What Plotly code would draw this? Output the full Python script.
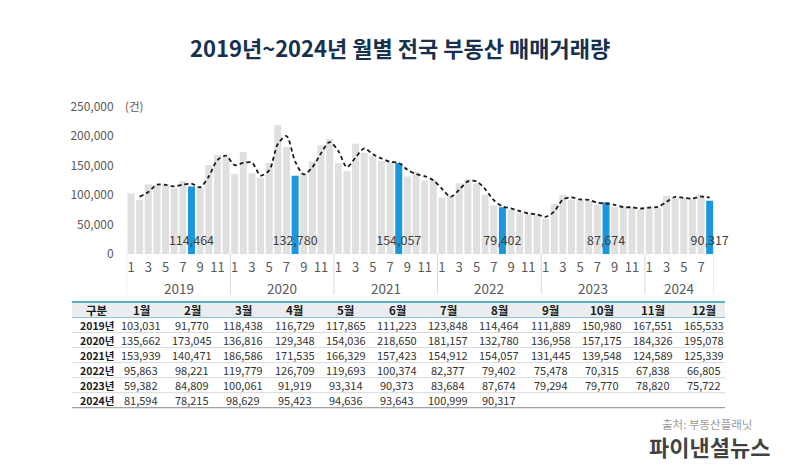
import plotly.graph_objects as go
import pandas as pd

FONT = "Noto Sans CJK KR"

years = ["2019", "2020", "2021", "2022", "2023", "2024"]
month_headers = ["1월", "2월", "3월", "4월", "5월", "6월", "7월", "8월", "9월", "10월", "11월", "12월"]

v2019 = [103031, 91770, 118438, 116729, 117865, 111223, 123848, 114464, 111889, 150980, 167551, 165533]
v2020 = [135662, 173045, 136816, 129348, 154036, 218650, 181157, 132780, 136958, 157175, 184326, 195078]
v2021 = [153939, 140471, 186586, 171535, 166329, 157423, 154912, 154057, 131445, 139548, 124589, 125339]
v2022 = [95863, 98221, 119779, 126709, 119693, 100374, 82377, 79402, 75478, 70315, 67838, 66805]
v2023 = [59382, 84809, 100061, 91919, 93314, 90373, 83684, 87674, 79294, 79770, 78820, 75722]
v2024 = [81594, 78215, 98629, 95423, 94636, 93643, 100999, 90317]

series = [v2019, v2020, v2021, v2022, v2023, v2024]
highlight_month = 8  # August highlighted

W, H = 800, 471
def px_x(p):
    return p / W
def px_y(p):
    return 1 - p / H

# flatten
xs, ys, colors, months = [], [], [], []
idx = 0
for yr, vals in zip(years, series):
    for m, v in enumerate(vals, start=1):
        xs.append(idx)
        ys.append(v)
        months.append(m)
        colors.append("#1b97dd" if m == highlight_month else "#e0e0e0")
        idx += 1

ma = pd.Series(ys).rolling(2).mean()

fig = go.Figure()
fig.add_trace(go.Bar(x=xs, y=ys, marker=dict(color=colors, line=dict(width=0)),
                     hoverinfo="skip", showlegend=False))
fig.add_trace(go.Scatter(x=xs[1:], y=ma[1:].tolist(), mode="lines",
                         line=dict(color="#1a1a1a", width=1.8, dash="4px,3px", shape="spline", smoothing=0.8),
                         hoverinfo="skip", showlegend=False))
hx = [x for x, m in zip(xs, months) if m == highlight_month]
hv = [v for v, m in zip(ys, months) if m == highlight_month]
fig.add_trace(go.Scatter(x=hx, y=[21500] * len(hx), mode="text", cliponaxis=False,
                         text=[f"{v:,}" for v in hv],
                         textfont=dict(family=FONT, size=12.5, color="#404040"),
                         hoverinfo="skip", showlegend=False))

shapes = []
annotations = []

# ---- table (drawn as text cells) ----
T_LEFT, T_RIGHT = 72, 725
T_TOP, HDR_BOT, ROW_H = 303, 319, 15.6
col_centers = [97] + [141 + 51.2 * i for i in range(12)]

shapes.append(dict(type="rect", xref="paper", yref="paper", x0=px_x(T_LEFT), x1=px_x(T_RIGHT),
                   y0=px_y(HDR_BOT), y1=px_y(T_TOP), fillcolor="#e9edf0", line=dict(width=0), layer="below"))
shapes.append(dict(type="line", xref="paper", yref="paper", x0=px_x(T_LEFT), x1=px_x(T_RIGHT),
                   y0=px_y(T_TOP), y1=px_y(T_TOP), line=dict(color="#5aaec6", width=2)))
shapes.append(dict(type="line", xref="paper", yref="paper", x0=px_x(T_LEFT), x1=px_x(T_RIGHT),
                   y0=px_y(HDR_BOT), y1=px_y(HDR_BOT), line=dict(color="#8fc3d3", width=1.2)))
for k in range(1, len(years)):
    yy = HDR_BOT + k * ROW_H
    shapes.append(dict(type="line", xref="paper", yref="paper", x0=px_x(T_LEFT), x1=px_x(T_RIGHT),
                       y0=px_y(yy), y1=px_y(yy), line=dict(color="#d0d0d0", width=0.8)))
yb = HDR_BOT + len(years) * ROW_H
shapes.append(dict(type="line", xref="paper", yref="paper", x0=px_x(T_LEFT), x1=px_x(T_RIGHT),
                   y0=px_y(yb), y1=px_y(yb), line=dict(color="#8c8c8c", width=1)))

header_vals = ["구분"] + month_headers
for cx, hv_ in zip(col_centers, header_vals):
    annotations.append(dict(x=px_x(cx), y=px_y((T_TOP + HDR_BOT) / 2), xref="paper", yref="paper",
                            text=f"<b>{hv_}</b>", showarrow=False, xanchor="center", yanchor="middle",
                            font=dict(family=FONT, size=11.5, color="#1a1a1a")))
for r, (yr, s) in enumerate(zip(years, series)):
    cy = HDR_BOT + (r + 0.5) * ROW_H
    annotations.append(dict(x=px_x(col_centers[0]), y=px_y(cy), xref="paper", yref="paper",
                            text=f"<b>{yr}년</b>", showarrow=False, xanchor="center", yanchor="middle",
                            font=dict(family=FONT, size=10.5, color="#1a1a1a")))
    for mi, v in enumerate(s):
        annotations.append(dict(x=px_x(col_centers[mi + 1]), y=px_y(cy), xref="paper", yref="paper",
                                text=f"{v:,}", showarrow=False, xanchor="center", yanchor="middle",
                                font=dict(family=FONT, size=11, color="#333333")))

# ---- year dividers and labels ----
bounds = [-0.5]
for s in series:
    bounds.append(bounds[-1] + len(s))
for b in bounds:
    shapes.append(dict(type="line", xref="x", yref="paper", x0=b, x1=b,
                       y0=px_y(295), y1=px_y(253.3), line=dict(color="#d9d9d9", width=1)))
for i, yr in enumerate(years):
    cx = (bounds[i] + bounds[i + 1]) / 2
    annotations.append(dict(x=cx, y=px_y(288), xref="x", yref="paper", text=yr, showarrow=False,
                            font=dict(family=FONT, size=13.5, color="#595959"), yanchor="middle"))

annotations.append(dict(x=px_x(400), y=px_y(38), xref="paper", yref="paper",
                        text="<b>2019년~2024년 월별 전국 부동산 매매거래량</b>", showarrow=False,
                        font=dict(family=FONT, size=22, color="#16304d"), yanchor="middle"))
annotations.append(dict(x=px_x(123), y=px_y(100), xref="paper", yref="paper", text="(건)",
                        showarrow=False, xanchor="left", yanchor="middle",
                        font=dict(family=FONT, size=11.5, color="#595959")))
annotations.append(dict(x=px_x(709), y=px_y(452), xref="paper", yref="paper", text="<b>파이낸셜뉴스</b>",
                        showarrow=False, xanchor="center", yanchor="middle",
                        font=dict(family=FONT, size=22, color="rgba(30,30,30,0.85)")))
annotations.append(dict(x=px_x(707), y=px_y(430), xref="paper", yref="paper", text="출처: 부동산플래닛",
                        showarrow=False, xanchor="center", yanchor="middle",
                        font=dict(family=FONT, size=11.5, color="#9a9a9a")))

tickvals = [x for x, m in zip(xs, months) if m % 2 == 1]
ticktext = [str(m) for m in months if m % 2 == 1]

fig.update_layout(
    width=W, height=H,
    margin=dict(l=0, r=0, t=0, b=0),
    paper_bgcolor="white", plot_bgcolor="white",
    bargap=0.19,
    shapes=shapes, annotations=annotations,
    xaxis=dict(domain=[px_x(126.7), px_x(714)], range=[-0.5, len(xs) - 0.5],
               tickvals=tickvals, ticktext=ticktext, ticks="", showgrid=False, zeroline=False,
               showline=False, ticklabelstandoff=4,
               tickfont=dict(family=FONT, size=13, color="#595959")),
    yaxis=dict(domain=[px_y(253.3), px_y(100)], range=[0, 250000], dtick=50000,
               tickformat=",d", ticks="", showgrid=False, zeroline=False, showline=False,
               ticklabelstandoff=12,
               tickfont=dict(family=FONT, size=12, color="#595959")),
    font=dict(family=FONT),
)

fig.write_html("out.html", config={"displayModeBar": False},
               post_script="document.body.style.margin='0';")
